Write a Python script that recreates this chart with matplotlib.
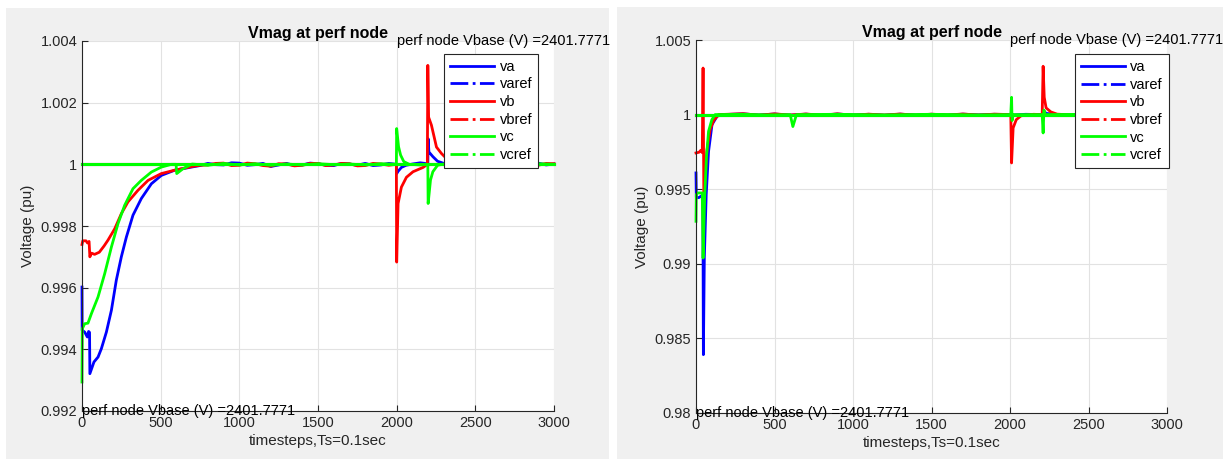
import numpy as np
import matplotlib.pyplot as plt
from matplotlib.patches import Rectangle
from matplotlib.lines import Line2D
from matplotlib.ticker import FuncFormatter

plt.rcParams['font.family'] = ['Liberation Sans', 'DejaVu Sans']

# ---- data (timestep, voltage pu) ----
va_left = [(0, 0.99602), (1, 0.99462), (17, 0.99456), (34, 0.99440), (42, 0.99458), (48, 0.99455),
           (50, 0.99321), (76, 0.99359), (102, 0.99375), (123, 0.99402), (155, 0.99456), (187, 0.99527),
           (218, 0.99624), (250, 0.99700), (282, 0.99764), (324, 0.99835), (377, 0.99889), (441, 0.99937),
           (504, 0.99964), (589, 0.99981), (695, 0.99991), (750, 0.99996), (800, 1.00003), (850, 0.99999),
           (900, 0.99998), (950, 1.00005), (1000, 1.00004), (1050, 0.99997), (1100, 0.99999),
           (1150, 1.00003), (1200, 0.99993), (1250, 0.99998), (1300, 1.00003), (1350, 0.99996),
           (1400, 0.99998), (1450, 1.00004), (1500, 1.00002), (1550, 0.99997), (1600, 0.99996),
           (1650, 1.00003), (1700, 1.00001), (1750, 0.99997), (1800, 1.00003), (1850, 0.99996),
           (1900, 0.99998), (1950, 1.00003), (1998, 1.0),
           (2000, 0.99970), (2010, 0.99978), (2030, 0.99990), (2060, 0.99997), (2100, 1.00001),
           (2150, 1.00005), (2180, 1.00003), (2198, 1.0), (2200, 1.00083), (2205, 1.00040),
           (2230, 1.00025), (2260, 1.00010), (2300, 1.00003), (2350, 0.99998), (2400, 0.99996),
           (2450, 1.00003), (2500, 1.00002), (2550, 0.99996), (2600, 0.99995), (2650, 1.00002),
           (2700, 1.00003), (2750, 0.99996), (2800, 0.99997), (2850, 1.00003), (2900, 1.00004),
           (2950, 0.99998), (3000, 1.00001)]
vb_left = [(0, 0.99740), (5, 0.99752), (25, 0.99752), (35, 0.99745), (45, 0.99750), (50, 0.99700),
           (60, 0.99712), (80, 0.99708), (110, 0.99715), (140, 0.99735), (165, 0.99754), (208, 0.99791),
           (250, 0.99840), (292, 0.99878), (356, 0.99916), (420, 0.99948), (504, 0.99970), (589, 0.99981),
           (700, 0.99993), (750, 0.99997), (800, 0.99998), (850, 1.00003), (900, 1.00004),
           (950, 0.99996), (1000, 0.99997), (1050, 1.00004), (1100, 1.00002), (1150, 0.99996),
           (1200, 0.99994), (1250, 1.00002), (1300, 1.00001), (1350, 0.99995), (1400, 0.99997),
           (1450, 1.00003), (1500, 1.00003), (1550, 0.99996), (1600, 0.99998), (1650, 1.00003),
           (1700, 1.00002), (1750, 0.99995), (1800, 0.99996), (1850, 1.00003), (1900, 1.00001),
           (1950, 0.99997), (1998, 1.0), (2000, 0.99683),
           (2009, 0.99873), (2030, 0.99926), (2062, 0.99958), (2104, 0.99976), (2168, 0.99990),
           (2195, 1.0), (2198, 1.00321), (2203, 1.00153), (2221, 1.00127), (2253, 1.00056),
           (2285, 1.00035), (2330, 1.00012), (2400, 1.00002), (2450, 0.99996), (2500, 0.99996),
           (2550, 1.00003), (2600, 1.00003), (2650, 0.99996), (2700, 0.99995), (2750, 1.00003),
           (2800, 1.00002), (2850, 0.99996), (2900, 0.99997), (2950, 1.00003), (3000, 1.00002)]
vc_left = [(0, 0.99294), (2, 0.99467), (17, 0.99483), (38, 0.99485), (60, 0.99516), (102, 0.99570),
           (144, 0.99645), (187, 0.99732), (229, 0.99808), (271, 0.99867), (324, 0.99921), (377, 0.99948),
           (441, 0.99975), (504, 0.99991), (568, 1.0), (598, 1.0), (602, 0.99970), (640, 0.99985),
           (700, 1.00001), (800, 0.99997), (900, 1.00003), (1000, 0.99998), (1100, 1.00002),
           (1200, 0.99997), (1300, 1.00001), (1400, 0.99998), (1500, 1.00002), (1600, 0.99999),
           (1700, 1.00001), (1800, 0.99998), (1900, 1.00002), (1998, 1.0), (2000, 1.00116),
           (2012, 1.00057), (2025, 1.00030), (2045, 1.00009), (2080, 1.0), (2150, 0.99998),
           (2198, 1.0), (2200, 0.99873), (2215, 0.99949), (2230, 0.99976), (2260, 0.99997),
           (2300, 1.00001), (2400, 0.99998), (2500, 1.00002), (2600, 0.99998), (2700, 1.00001),
           (2800, 0.99998), (2900, 1.00002), (3000, 1.0)]

va_right = [(0, 0.99609), (2, 0.99446), (17, 0.99443), (27, 0.99450), (35, 0.99455), (44, 0.99440),
            (47, 0.98391), (53, 0.99040), (65, 0.99464), (80, 0.99754), (102, 0.99933), (134, 0.99989),
            (170, 1.0), (300, 1.00005), (400, 0.99997), (500, 1.00004), (600, 0.99996), (700, 1.00003),
            (800, 0.99995), (900, 1.00004), (1000, 0.99997), (1100, 1.00002), (1200, 0.99996),
            (1300, 1.00003), (1400, 0.99997), (1500, 1.00002), (1600, 0.99996), (1700, 1.00003),
            (1800, 0.99998), (1900, 1.00002), (2005, 1.0), (2010, 0.99985), (2030, 0.99998),
            (2100, 1.00002), (2205, 1.0), (2211, 1.00030), (2230, 1.00008), (2300, 1.0),
            (2400, 0.99997), (2500, 1.00003), (2600, 0.99996), (2700, 1.00003), (2800, 0.99997),
            (2900, 1.00003), (3000, 1.0)]
vb_right = [(0, 0.99743), (20, 0.99748), (30, 0.99760), (40, 0.99745), (45, 1.00312), (50, 0.99441),
            (59, 0.99575), (69, 0.99754), (90, 0.99899), (112, 0.99960), (144, 1.0), (300, 1.00006),
            (400, 0.99996), (500, 1.00005), (600, 0.99997), (700, 1.00004), (800, 0.99996),
            (900, 1.00005), (1000, 0.99996), (1100, 1.00003), (1200, 0.99997), (1300, 1.00004),
            (1400, 0.99996), (1500, 1.00003), (1600, 0.99997), (1700, 1.00004), (1800, 0.99997),
            (1900, 1.00003), (2005, 1.0), (2010, 0.99676), (2020, 0.99911), (2040, 0.99966),
            (2070, 0.99992), (2150, 1.00002), (2205, 1.0), (2211, 1.00324), (2218, 1.00116),
            (2230, 1.00045), (2260, 1.00018), (2300, 1.00003), (2400, 0.99997), (2500, 1.00004),
            (2600, 0.99996), (2700, 1.00003), (2800, 0.99997), (2900, 1.00004), (3000, 1.0)]
vc_right = [(0, 0.99285), (2, 0.99464), (10, 0.99475), (40, 0.99475), (45, 0.99039), (55, 0.99440),
            (66, 0.99709), (80, 0.99888), (101, 0.99966), (122, 1.0), (300, 1.00002), (450, 0.99998),
            (600, 1.0), (617, 0.99920), (640, 1.0), (900, 1.00002), (1200, 0.99998), (1500, 1.00002),
            (1800, 0.99998), (2005, 1.0), (2010, 1.00116), (2013, 0.99960), (2020, 1.0),
            (2205, 1.0), (2211, 0.99877), (2216, 1.00030), (2225, 1.0), (2500, 1.00002),
            (2800, 0.99998), (3000, 1.0)]

ref_t = [0, 3000]
varef = [1.0, 1.0]
vbref = [1.0, 1.0]
vcref = [1.0, 1.0]

series_names = ['va', 'varef', 'vb', 'vbref', 'vc', 'vcref']
colors = ['#0000ff', '#0000ff', '#ff0000', '#ff0000', '#00ff00', '#00ff00']

left_yticks = [0.992, 0.994, 0.996, 0.998, 1.0, 1.002, 1.004]
right_yticks = [0.98, 0.985, 0.99, 0.995, 1.0, 1.005]
xticks = [0, 500, 1000, 1500, 2000, 2500, 3000]
vbase_text = 'perf node Vbase (V) =2401.7771'

W, H = 1223, 459
fig = plt.figure(figsize=(W / 100, H / 100), dpi=100, facecolor='white')

# grey figure backgrounds of the two screenshots
fig.patches.append(Rectangle((6 / W, 0), 603 / W, (H - 8) / H, transform=fig.transFigure,
                             facecolor='#f0f0f0', edgecolor='none', zorder=-10))
fig.patches.append(Rectangle((617 / W, 0), 606 / W, (H - 7) / H, transform=fig.transFigure,
                             facecolor='#f0f0f0', edgecolor='none', zorder=-10))

ax_l = fig.add_axes([82 / W, 1 - 411 / H, 472 / W, 370 / H])
ax_r = fig.add_axes([696 / W, 1 - 413 / H, 471 / W, 373 / H])


def draw(ax, va, vb, vc, yticks, leg_anchor):
    for pts, ref, c in [(va, varef, colors[0]), (vb, vbref, colors[2]), (vc, vcref, colors[4])]:
        t, v = zip(*pts)
        ax.plot(t, v, color=c, lw=2, clip_on=False)
        ax.plot(ref_t, ref, color=c, lw=2.2, clip_on=False)
    ax.set_xlim(0, 3000)
    ax.set_ylim(yticks[0], yticks[-1])
    ax.set_xticks(xticks)
    ax.set_yticks(yticks)
    ax.yaxis.set_major_formatter(FuncFormatter(lambda y, _: f'{round(y, 4):g}'))
    ax.grid(True, color='#e2e2e2', lw=0.8)
    ax.set_axisbelow(True)
    for s in ['top', 'right']:
        ax.spines[s].set_visible(False)
    for s in ['left', 'bottom']:
        ax.spines[s].set_color('#262626')
        ax.spines[s].set_linewidth(0.8)
    ax.tick_params(direction='in', length=4, width=0.8, color='#262626',
                   labelcolor='#262626', labelsize=10.5)
    ax.set_title('Vmag at perf node', fontweight='bold', fontsize=11.5, pad=1, color='#000000')
    ax.set_xlabel('timesteps,Ts=0.1sec', fontsize=11, color='#262626', labelpad=3)
    ax.set_ylabel('Voltage (pu)', fontsize=11, color='#262626')
    ax.text(2000, yticks[-1], vbase_text, fontsize=10.5, va='center', ha='left', clip_on=False)
    ax.text(0, yticks[0], vbase_text, fontsize=10.5, va='center', ha='left', clip_on=False)

    handles = [Line2D([], [], color=c, lw=2, ls='-' if i % 2 == 0 else '-.')
               for i, c in enumerate(colors)]
    leg = ax.legend(handles, series_names, loc='upper right', bbox_to_anchor=leg_anchor,
                    borderaxespad=0, fontsize=10.5, fancybox=False, framealpha=1,
                    edgecolor='#262626', handlelength=3.0, labelspacing=0.25,
                    handletextpad=0.4, borderpad=0.4)
    leg.get_frame().set_linewidth(0.8)
    leg.set_zorder(5)


draw(ax_l, va_left, vb_left, vc_left, left_yticks, (0.966, 0.965))
draw(ax_r, va_right, vb_right, vc_right, right_yticks, (1.004, 0.962))

fig.savefig('out.png', dpi=100, facecolor=fig.get_facecolor())
